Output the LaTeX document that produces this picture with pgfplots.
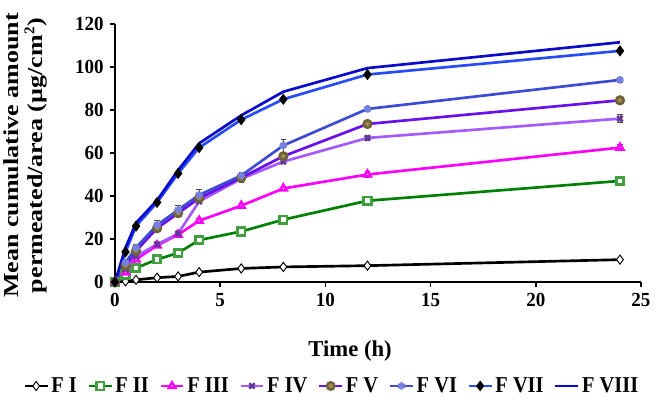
\documentclass[border=0pt]{standalone}
\usepackage{pgfplots}
\pgfplotsset{compat=1.18}
\usepackage{fontspec}
\setmainfont{Liberation Serif}
\definecolor{cI}{RGB}{0,0,0}
\definecolor{cII}{RGB}{0,128,0}
\definecolor{cIII}{RGB}{255,0,255}
\definecolor{cIV}{RGB}{165,90,255}
\definecolor{cV}{RGB}{105,15,235}
\definecolor{cVI}{RGB}{60,75,210}
\definecolor{cVII}{RGB}{40,75,250}
\definecolor{cVIII}{RGB}{10,10,200}
\definecolor{cVm}{RGB}{160,140,80}
\begin{document}
\begin{tikzpicture}
\useasboundingbox (-86.25pt,-94.5pt) rectangle (407.25pt,211.5pt);
\begin{axis}[
  at={(0pt,0pt)}, anchor=south west,
  scale only axis,
  width=394.5pt, height=193.5pt,
  xmin=0, xmax=25, ymin=0, ymax=120,
  xtick={0,5,10,15,20,25}, ytick={0,20,40,60,80,100,120},
  axis x line*=bottom, axis y line*=left,
  axis line style={-, line width=1.6pt},
  tick align=outside, major tick length=4pt,
  tick style={line width=1.3pt, black},
  /pgf/number format/assume math mode=true,
  ticklabel style={font=\fontsize{15}{16}\selectfont\bfseries\addfontfeature{FakeStretch=0.95}},
  xticklabel style={yshift=-1pt},
  yticklabel style={xshift=-1pt},
  xlabel={Time (h)},
  xlabel style={at={(axis description cs:0.447,0)}, anchor=center, yshift=-52pt,
    font=\fontsize{17}{19}\selectfont\bfseries},
  ylabel={Mean cumulative amount\\permeated/area (µg/cm$^{\mathbf{2}}$)},
  ylabel style={at={(axis description cs:-0.170,0.49)}, anchor=center, align=center,
    font=\fontsize{16}{18}\selectfont\bfseries\addfontfeature{FakeStretch=1.22}},
  legend columns=8,
  legend style={at={(0.413,-0.403)}, anchor=center, draw=none,
    font=\fontsize{17}{19}\selectfont\bfseries\addfontfeature{FakeStretch=0.9},
    /tikz/every even column/.append style={column sep=6pt},
    inner sep=0pt},
  legend image post style={line width=1.8pt},
  every axis plot/.append style={line width=2pt, mark size=2.8pt, mark options={solid, line width=0.8pt}},
  error bars/error bar style={line width=0.6pt, black!70},
  error bars/error mark options={rotate=90, mark size=2pt, line width=0.6pt, black!70},
  clip=false,
]
\addplot[cI, mark=diamond*, mark options={fill=white, draw=black, mark size=3.4pt, line width=0.7pt}] coordinates {(0,0)(0.5,0.3)(1,1)(2,2)(3,2.6)(4,4.6)(6,6.3)(8,7)(12,7.6)(24,10.4)};
\addlegendentry{F I}
\addplot[cII, mark=square*, mark options={fill=white, draw=cII!75}, error bars/.cd, y dir=both, y explicit] coordinates {(0,0)(0.5,3.5)(1,6.5)(2,10.5)(3,13.5)(4,19.5)(6,23.5)+-(0,1.2)(8,29)+-(0,1)(12,37.8)+-(0,1.5)(24,47)+-(0,1.5)};
\addlegendentry{F II}
\addplot[cIII, mark=triangle*, mark options={fill=white, draw=cIII}, error bars/.cd, y dir=both, y explicit] coordinates {(0,0)(0.5,4.5)(1,10.5)(2,17)(3,22)(4,28.5)+-(0,1)(6,35.5)+-(0,1)(8,43.5)+-(0,1)(12,50)+-(0,1.5)(24,62.5)+-(0,1.5)};
\addlegendentry{F III}
\addplot[cIV, mark=x, mark options={draw=cIV!60!black}, error bars/.cd, y dir=both, y explicit] coordinates {(0,0)(0.5,6)(1,12)(2,17.5)(3,22.5)(4,37.5)(6,48)+-(0,1.5)(8,56)(12,67)+-(0,1.2)(24,76)+-(0,1.8)};
\addlegendentry{F IV}
\addplot[cV, mark=*, mark options={fill=cVm, draw=cVm!70!black}] coordinates {(0,0)(0.5,7.5)(1,14.5)(2,25)(3,32)(4,39)(6,48.5)(8,58.5)(12,73.5)(24,84.5)};
\addlegendentry{F V}
\addplot[cVI, mark=asterisk, mark options={draw=cVI!70!white}, error bars/.cd, y dir=both, y explicit] coordinates {(0,0)(0.5,9)+-(0,1.5)(1,16)+-(0,1.5)(2,26.5)+-(0,2)(3,33.5)+-(0,2)(4,40.5)+-(0,2.5)(6,49.5)+-(0,1.5)(8,63.5)+-(0,3)(12,80.5)+-(0,1)(24,94)+-(0,1)};
\addlegendentry{F VI}
\addplot[cVII, mark=diamond*, mark options={fill=black, draw=black, mark size=2.6pt}] coordinates {(0,0)(0.5,14)(1,26)(2,37)(3,50.5)(4,62.5)(6,75.5)(8,85)(12,96.5)(24,107.5)};
\addlegendentry{F VII}
\addplot[cVIII, no marks] coordinates {(0,0)(0.5,16)(1,27.5)(2,38)(3,52)(4,64.5)(6,77.5)(8,88.5)(12,99.5)(24,111.5)};
\addlegendentry{F VIII}
\end{axis}
\end{tikzpicture}
\end{document}
